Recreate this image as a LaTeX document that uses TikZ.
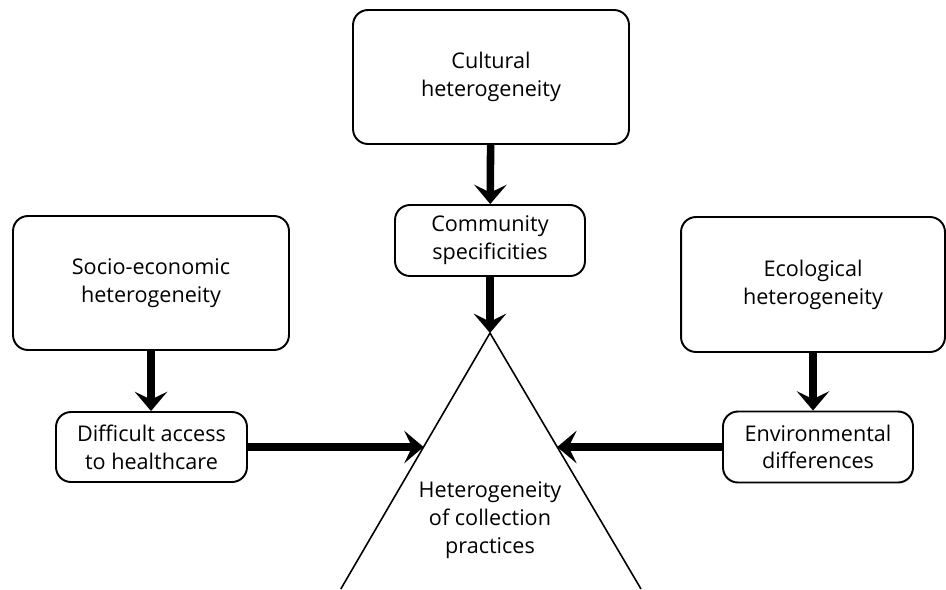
\documentclass[tikz,border=0pt]{standalone}
\usepackage{fontspec}
\setmainfont{Open Sans}
\usetikzlibrary{arrows.meta,calc}

\begin{document}
\begin{tikzpicture}[x=0.02cm,y=-0.02cm,
    box/.style={draw, line width=1.1pt, rounded corners=8.5pt, align=center,
      font=\fontsize{12.3}{15.8}\selectfont, inner sep=0pt},
    bigbox/.style={box, minimum width=5.52cm, minimum height=2.68cm},
    smallbox/.style={box, minimum width=3.8cm, minimum height=1.42cm},
    flow/.style={line width=4.3pt, -{Stealth[length=11pt,width=18.5pt,inset=4.5pt]}}]
    \useasboundingbox (0,0) rectangle (946,589);
    \pgfmathsetmacro{\ax}{490}
    \pgfmathsetmacro{\ay}{333}
    % boxes
    \node[bigbox] (cult) at (491,77) {Cultural\\heterogeneity};
    \node[smallbox] (comm) at (490,240.5) {Community\\specificities};
    \node[bigbox] (socio) at (151,283) {Socio-economic\\heterogeneity};
    \node[bigbox, minimum width=5.28cm, minimum height=2.7cm] (eco) at (813,284.5) {Ecological\\heterogeneity};
    \node[smallbox, minimum width=3.82cm, minimum height=1.4cm] (diff) at (151.5,447) {Difficult access\\to healthcare};
    \node[smallbox] (env) at (818,447) {Environmental\\differences};
    % triangle
    \coordinate (apex) at (\ax,\ay);
    \coordinate (baseL) at (340.8,589);
    \coordinate (baseR) at (641,589);
    \draw[line width=0.9pt] (baseL) -- (apex) -- (baseR);
    \node[align=center, font=\fontsize{12.3}{15.8}\selectfont] (practice) at (490,520) {Heterogeneity\\of collection\\practices};
    \coordinate (lhit) at ($(apex)!0.4453!(baseL)$);
    \coordinate (rhit) at ($(apex)!0.4453!(baseR)$);
    % arrows
    \draw[flow] (cult) -- (comm);
    \draw[flow] (comm) -- (apex);
    \draw[flow] (socio.south) -- (socio.south |- diff.north);
    \draw[flow] (eco.south) -- (eco.south |- env.north);
    \draw[flow] (diff.east) -- (diff.east -| lhit);
    \draw[flow] (env.west) -- (env.west -| rhit);
\end{tikzpicture}
\end{document}
